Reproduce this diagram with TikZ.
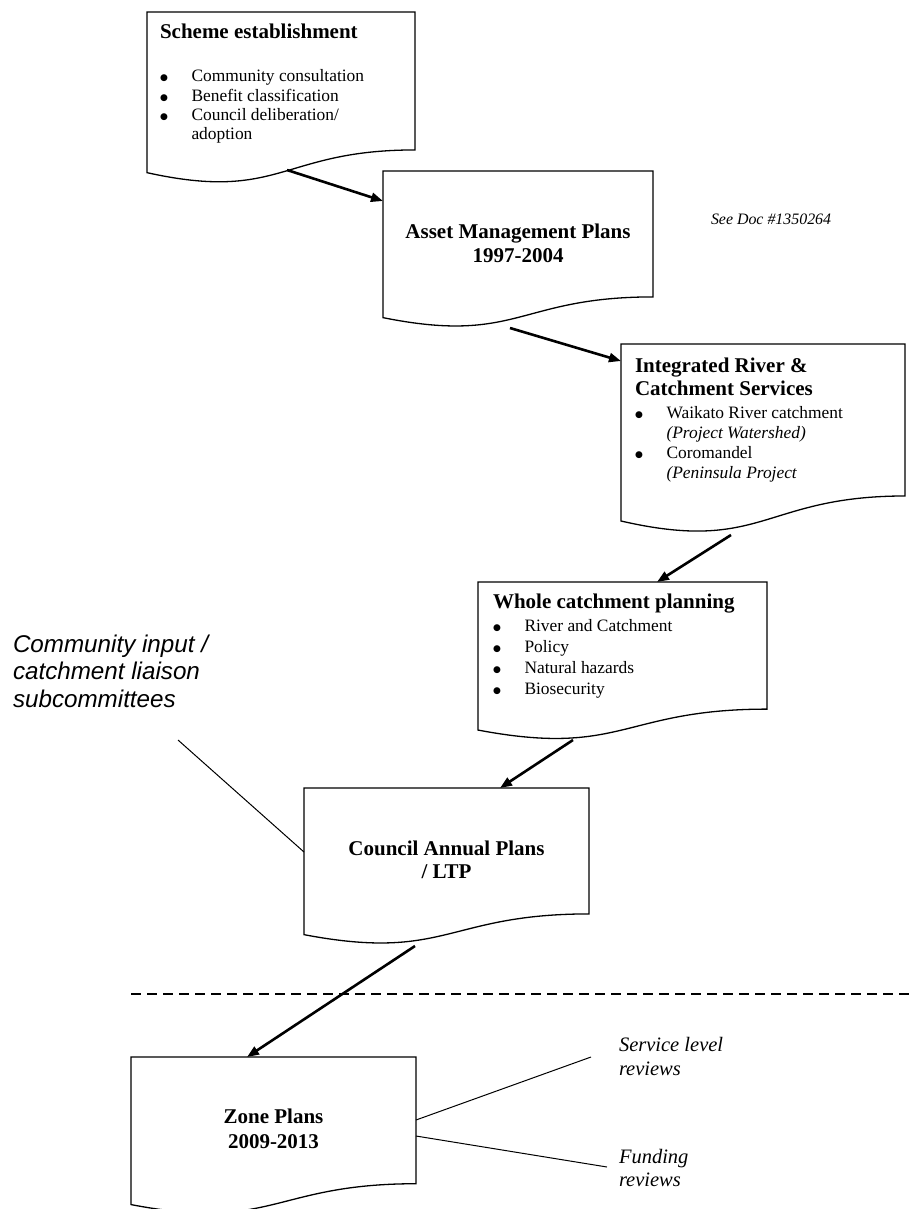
\documentclass[tikz,border=0pt]{standalone}
\usepackage{fontspec}
\setmainfont{Liberation Serif}
\newfontfamily\arialfont{Liberation Sans}
\newfontfamily\dejavufont{DejaVu Sans}
\usetikzlibrary{arrows.meta,calc}
\newcommand\hdfont{\fontsize{21}{24}\selectfont\bfseries}
\newcommand\bdfont{\fontsize{17.4}{19.4}\selectfont}
\newcommand\bigbul{\smash{\raisebox{1pt}{\dejavufont\fontsize{9}{9}\selectfont ●}}}
\newcommand\bul[1]{\hbox{\hbox to 31.5pt{\bigbul\hfil}#1}}
\newcommand\cont[1]{\hbox{\hskip 31.5pt #1}}
\newcommand\twoc[3]{\vtop{\baselineskip=#1\halign{\hfil##\hfil\cr #2\cr #3\cr}}}
\newcommand\docout[1]{%
  \draw[boxline] let \p1=(#1.north west), \p2=(#1.south east) in
  (\x1,\y1) -- (\x2,\y1) -- (\x2,{\y1+0.802*(\y2-\y1)})
  .. controls ({0.5*\x1+0.5*\x2},{\y1+0.802*(\y2-\y1)}) and ({0.5*\x1+0.5*\x2},{\y1+1.107*(\y2-\y1)}) ..
  (\x1,{\y1+0.934*(\y2-\y1)}) -- cycle;}
\tikzset{
  docbox/.style={inner sep=0pt, outer sep=0pt, anchor=north west},
  boxline/.style={line width=1.3pt, black},
  flow/.style={line width=2.6pt, black, -{Triangle[length=12pt,width=9pt]}},
  thinline/.style={line width=1pt, black},
  divider/.style={line width=2pt, black, dash pattern=on 10pt off 6pt},
  txt/.style={inner sep=0pt, outer sep=0pt, anchor=base west},
  ctxt/.style={inner sep=0pt, outer sep=0pt, anchor=base},
}
\begin{document}
\begin{tikzpicture}[x=1pt, y=-1pt]
\useasboundingbox (0,0) rectangle (910,1209);
\clip (0,0) rectangle (910,1209);

% boxes
\node[docbox, minimum width=268pt, minimum height=172pt] (b1) at (147,12) {};
\node[docbox, minimum width=270pt, minimum height=157pt] (b2) at (383,171) {};
\node[docbox, minimum width=284pt, minimum height=189.5pt] (b3) at (621,344) {};
\node[docbox, minimum width=289pt, minimum height=158.5pt] (b4) at (478,582) {};
\node[docbox, minimum width=285pt, minimum height=157pt] (b5) at (304,788) {};
\node[docbox, minimum width=285pt, minimum height=158pt] (b6) at (131,1057) {};
\docout{b1}\docout{b2}\docout{b3}\docout{b4}\docout{b5}\docout{b6}

% texts in boxes
\node[txt, font=\bdfont] (t1) at (160,39) {\vtop{\baselineskip=19.4pt
  \hbox{\hdfont Scheme establishment}\vskip 23.3pt
  \bul{Community consultation}\bul{Benefit classification}\bul{Council deliberation/}\cont{adoption}}};
\node[ctxt, font=\hdfont] (t2) at (518,238) {\twoc{24pt}{Asset Management Plans}{1997-2004}};
\node[txt, font=\bdfont] (t3) at (635,372) {\vtop{\baselineskip=20.2pt
  \hbox{\hdfont Integrated River \&}\vskip 2.8pt
  \hbox{\hdfont Catchment Services}\vskip 2.8pt
  \bul{Waikato River catchment}\cont{\itshape (Project Watershed)}\bul{Coromandel}\cont{\itshape (Peninsula Project}}};
\node[txt, font=\bdfont] (t4) at (493,608) {\vtop{\baselineskip=21pt
  \hbox{\hdfont Whole catchment planning}\vskip 2pt
  \bul{River and Catchment}\bul{Policy}\bul{Natural hazards}\bul{Biosecurity}}};
\node[ctxt, font=\hdfont] (t5) at (446.5,855) {\twoc{23pt}{Council Annual Plans}{/ LTP}};
\node[ctxt, font=\hdfont] (t6) at (273.5,1123) {\twoc{25pt}{Zone Plans}{2009-2013}};

% side texts
\node[txt, font=\fontsize{15.9}{18}\selectfont\itshape] (see) at (711,224) {See Doc \#1350264};
\node[txt, font=\arialfont\fontsize{24.2}{27.5}\selectfont\itshape] (comm) at (13,652) {\vtop{\baselineskip=27.5pt
  \hbox{Community input /}\hbox{catchment liaison}\hbox{subcommittees}}};
\node[txt, font=\fontsize{20.5}{24}\selectfont\itshape] (serv) at (619,1051) {\vtop{\baselineskip=24pt
  \hbox{Service level}\hbox{reviews}}};
\node[txt, font=\fontsize{20.5}{23}\selectfont\itshape] (fund) at (619,1163) {\vtop{\baselineskip=23pt
  \hbox{Funding}\hbox{reviews}}};

% flow arrows
\coordinate (a1s) at ([xshift=140,yshift=-158]b1.north west);
\coordinate (a1e) at ([yshift=-30]b2.north west);
\coordinate (a2s) at ([xshift=127,yshift=-157]b2.north west);
\coordinate (a2e) at ([yshift=-17]b3.north west);
\coordinate (a3s) at ([xshift=110,yshift=-191]b3.north west);
\coordinate (a3e) at ([xshift=179]b4.north west);
\coordinate (a4s) at ([xshift=95,yshift=-158]b4.north west);
\coordinate (a4e) at ([xshift=196]b5.north west);
\coordinate (a5s) at ([xshift=111,yshift=-158]b5.north west);
\coordinate (a5e) at ([xshift=116]b6.north west);
\draw[flow] (a1s) -- (a1e);
\draw[flow] (a2s) -- (a2e);
\draw[flow] (a3s) -- (a3e);
\draw[flow] (a4s) -- (a4e);
\draw[flow] (a5s) -- (a5e);

% thin lines
\coordinate (c1) at (178,740);
\coordinate (c1e) at ([yshift=-64]b5.north west);
\draw[thinline] (c1) -- (c1e);
\coordinate (c2s) at ([yshift=-63]b6.north east);
\coordinate (c2) at (591,1057);
\draw[thinline] (c2s) -- (c2);
\coordinate (c3s) at ([yshift=-79]b6.north east);
\coordinate (c3) at (607,1167);
\draw[thinline] (c3s) -- (c3);

% divider
\coordinate (d1) at (131,994);
\coordinate (d2) at (910,994);
\draw[divider] (d1) -- (d2);
\end{tikzpicture}
\end{document}
